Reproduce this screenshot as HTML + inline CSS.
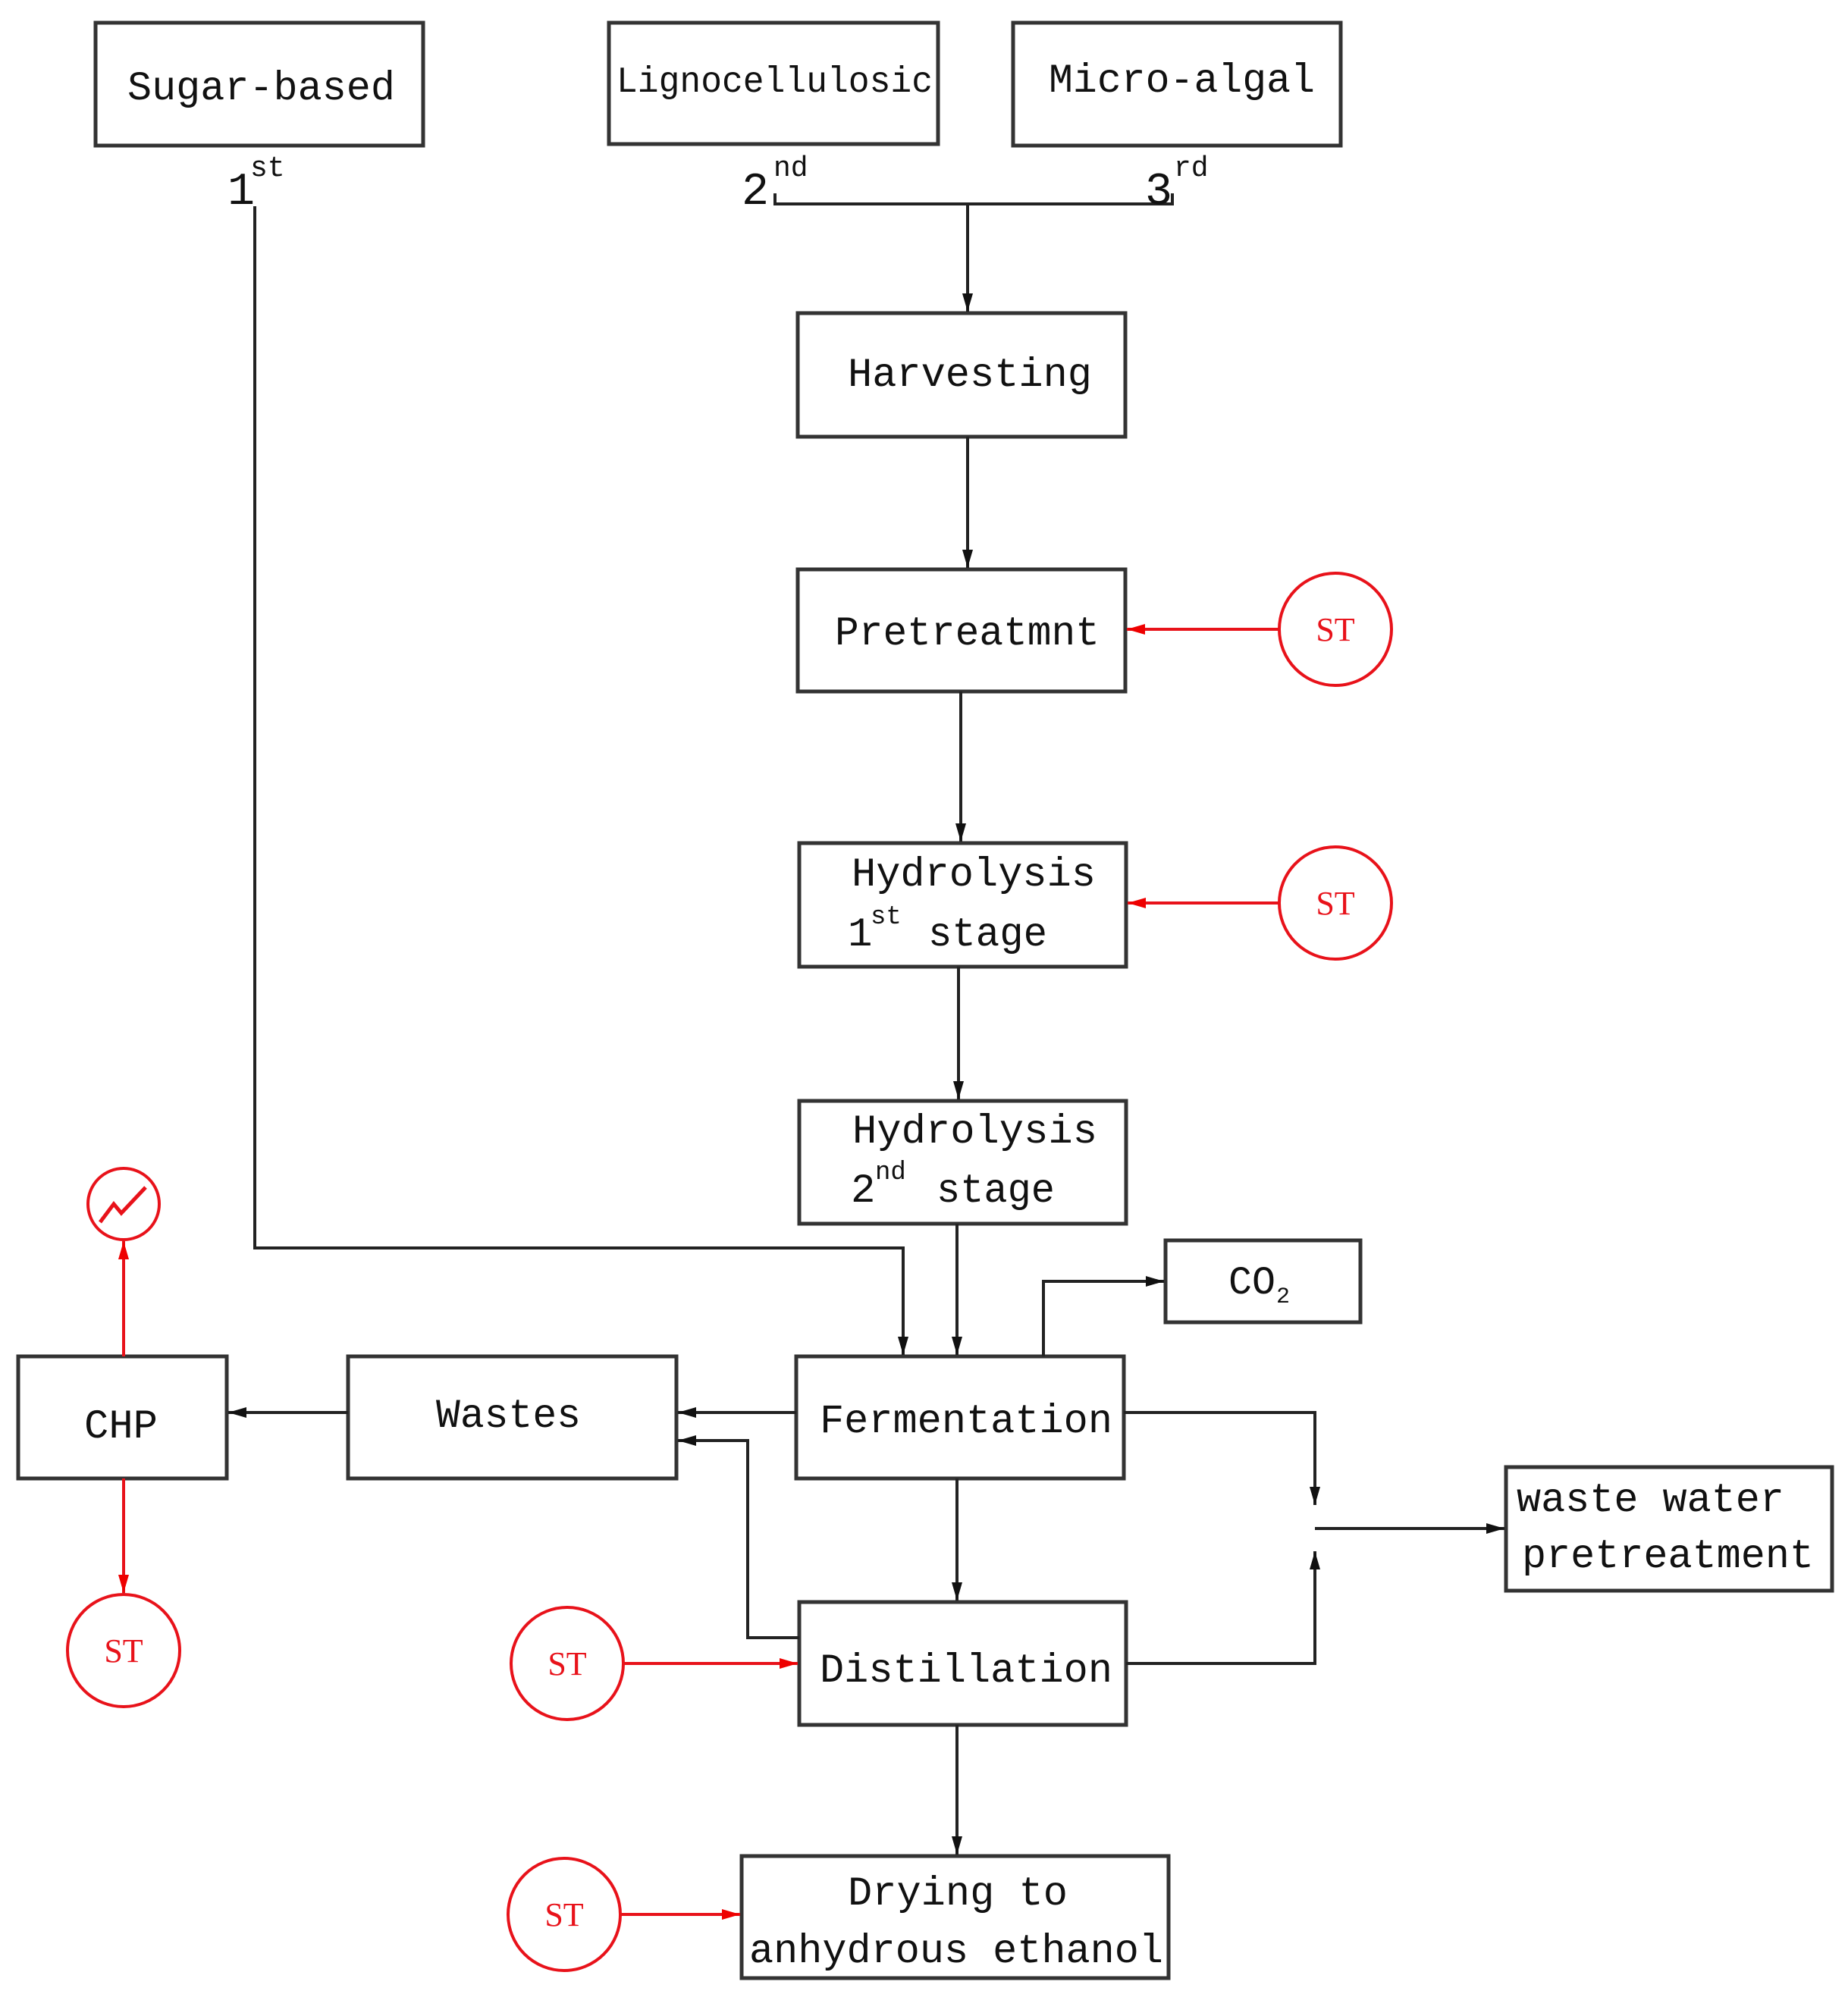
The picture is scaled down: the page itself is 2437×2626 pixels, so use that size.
<!DOCTYPE html>
<html><head><meta charset="utf-8"><style>html,body{margin:0;padding:0;background:#fff}svg{display:block}</style></head>
<body>
<svg width="2437" height="2626" viewBox="0 0 2437 2626" xmlns="http://www.w3.org/2000/svg" font-family="'Liberation Mono', 'Noto Serif CJK SC', monospace">
<defs>
<marker id="ak" markerWidth="10" markerHeight="8" refX="10" refY="4" orient="auto" markerUnits="userSpaceOnUse" viewBox="0 0 10 8"><path d="M0,0 L10,4 L0,8z" fill="#111"/></marker>
<marker id="akb" markerWidth="24" markerHeight="14" refX="24" refY="7" orient="auto" markerUnits="userSpaceOnUse" viewBox="0 0 24 14"><path d="M0,0 L24,7 L0,14z" fill="#111"/></marker>
<marker id="ar" markerWidth="24" markerHeight="14" refX="24" refY="7" orient="auto" markerUnits="userSpaceOnUse" viewBox="0 0 24 14"><path d="M0,0 L24,7 L0,14z" fill="#e00"/></marker>
</defs>
<g fill="none" stroke="#333" stroke-width="5">
<rect x="126" y="30" width="432" height="162"/>
<rect x="803" y="30" width="434" height="160"/>
<rect x="1336" y="30" width="432" height="162"/>
<rect x="1052" y="413" width="432" height="163"/>
<rect x="1052" y="751" width="432" height="161"/>
<rect x="1054" y="1112" width="431" height="163"/>
<rect x="1054" y="1452" width="431" height="162"/>
<rect x="1537" y="1636" width="257" height="108"/>
<rect x="1050" y="1789" width="432" height="161"/>
<rect x="459" y="1789" width="433" height="161"/>
<rect x="24" y="1789" width="275" height="161"/>
<rect x="1054" y="2113" width="431" height="162"/>
<rect x="1986" y="1935" width="430" height="163"/>
<rect x="978" y="2448" width="563" height="161"/>
</g>
<g fill="none" stroke="#222" stroke-width="4">
<path d="M1022 255 V269 H1546 V255"/>
<path d="M1276 269 V411" marker-end="url(#akb)"/>
<path d="M1276 576 V749" marker-end="url(#akb)"/>
<path d="M1267 912 V1110" marker-end="url(#akb)"/>
<path d="M1264 1275 V1450" marker-end="url(#akb)"/>
<path d="M1262 1614 V1787" marker-end="url(#akb)"/>
<path d="M336 272 V1646 H1191 V1787" marker-end="url(#akb)"/>
<path d="M1376 1789 V1690 H1535" marker-end="url(#akb)"/>
<path d="M1050 1863 H894" marker-end="url(#akb)"/>
<path d="M459 1863 H301" marker-end="url(#akb)"/>
<path d="M1054 2160 H986 V1900 H894" marker-end="url(#akb)"/>
<path d="M1262 1950 V2111" marker-end="url(#akb)"/>
<path d="M1482 1863 H1734 V1985" marker-end="url(#akb)"/>
<path d="M1485 2194 H1734 V2046" marker-end="url(#akb)"/>
<path d="M1734 2016 H1984" marker-end="url(#akb)"/>
<path d="M1262 2275 V2446" marker-end="url(#akb)"/>
</g>
<g fill="none" stroke="#e8121a" stroke-width="4">
<circle cx="1761" cy="830" r="74"/>
<circle cx="1761" cy="1191" r="74"/>
<circle cx="163" cy="1588" r="47"/>
<circle cx="163" cy="2177" r="74"/>
<circle cx="748" cy="2194" r="74"/>
<circle cx="744" cy="2525" r="74"/>
<path d="M1687 830 H1486" marker-end="url(#ar)"/>
<path d="M1687 1191 H1487" marker-end="url(#ar)"/>
<path d="M822 2194 H1052" marker-end="url(#ar)"/>
<path d="M818 2525 H976" marker-end="url(#ar)"/>
<path d="M163 1789 V1637" marker-end="url(#ar)"/>
<path d="M163 1950 V2101" marker-end="url(#ar)"/>
<path d="M132 1612 L150 1588 L160 1600 L192 1566" stroke-width="5"/>
</g>
<g fill="#111" font-size="54">
<text x="168" y="131" textLength="353" lengthAdjust="spacingAndGlyphs">Sugar-based</text>
<text x="813" y="121" textLength="417" lengthAdjust="spacingAndGlyphs" font-size="48">Lignocellulosic</text>
<text x="1383" y="121" textLength="351" lengthAdjust="spacingAndGlyphs">Micro-algal</text>
<text x="300" y="269" font-size="60">1</text><text x="330" y="232" font-size="38">st</text>
<text x="978" y="269" font-size="60">2</text><text x="1020" y="232" font-size="38">nd</text>
<text x="1510" y="269" font-size="60">3</text><text x="1548" y="232" font-size="38">rd</text>
<text x="1118" y="509" textLength="322" lengthAdjust="spacingAndGlyphs">Harvesting</text>
<text x="1101" y="850" textLength="349" lengthAdjust="spacingAndGlyphs">Pretreatmnt</text>
<text x="1123" y="1168" textLength="322" lengthAdjust="spacingAndGlyphs">Hydrolysis</text>
<text x="1118" y="1247">1</text><text x="1148" y="1218" font-size="34">st</text>
<text x="1224" y="1247" textLength="157" lengthAdjust="spacingAndGlyphs">stage</text>
<text x="1124" y="1507" textLength="323" lengthAdjust="spacingAndGlyphs">Hydrolysis</text>
<text x="1122" y="1585">2</text><text x="1154" y="1555" font-size="34">nd</text>
<text x="1235" y="1585" textLength="156" lengthAdjust="spacingAndGlyphs">stage</text>
<text x="1620" y="1706" font-size="52" textLength="62" lengthAdjust="spacingAndGlyphs">CO</text><text x="1683" y="1718" font-size="30">2</text>
<text x="1081" y="1889" textLength="386" lengthAdjust="spacingAndGlyphs">Fermentation</text>
<text x="575" y="1882" textLength="191" lengthAdjust="spacingAndGlyphs">Wastes</text>
<text x="111" y="1896" textLength="97" lengthAdjust="spacingAndGlyphs">CHP</text>
<text x="1081" y="2218" textLength="386" lengthAdjust="spacingAndGlyphs">Distillation</text>
<text x="2000" y="1993" textLength="353" lengthAdjust="spacingAndGlyphs">waste water</text>
<text x="2007" y="2067" textLength="385" lengthAdjust="spacingAndGlyphs">pretreatment</text>
<text x="1118" y="2512" textLength="290" lengthAdjust="spacingAndGlyphs">Drying to</text>
<text x="988" y="2588" textLength="546" lengthAdjust="spacingAndGlyphs">anhydrous ethanol</text>
</g>
<g fill="#e8121a" font-size="44" font-family="'Liberation Serif', serif" text-anchor="middle">
<text x="1761" y="845">ST</text>
<text x="1761" y="1206">ST</text>
<text x="163" y="2192">ST</text>
<text x="748" y="2209">ST</text>
<text x="744" y="2540">ST</text>
</g>
</svg>
</body></html>
